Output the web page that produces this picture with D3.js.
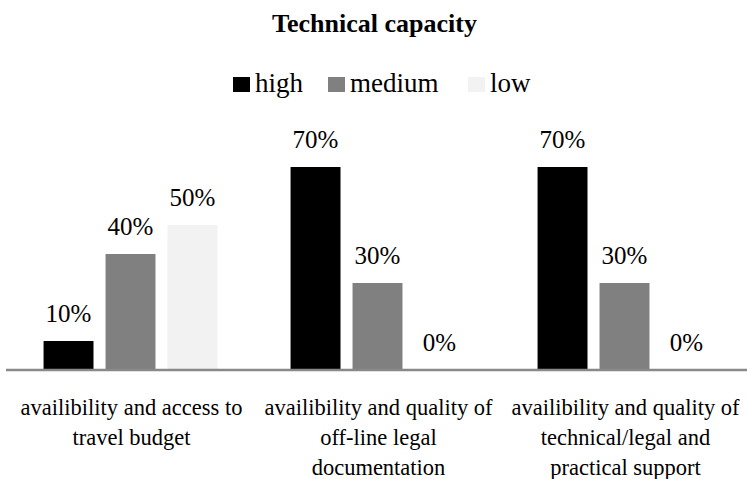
<!DOCTYPE html>
<html>
<head>
<meta charset="utf-8">
<script src="https://cdn.jsdelivr.net/npm/d3@7"></script>
<style>
  html, body { margin: 0; padding: 0; background: #fff; }
  svg { display: block; font-family: "Liberation Serif", "Times New Roman", serif; }
</style>
</head>
<body>
<svg id="chart" width="747" height="479"></svg>
<script>
// chart data
const categories = [
  ['availibility and access to', 'travel budget'],
  ['availibility and quality of', 'off-line legal', 'documentation'],
  ['availibility and quality of', 'technical/legal and', 'practical support']
];
const seriesNames = ['high', 'medium', 'low'];
const seriesColours = ['#000000', '#808080', '#f2f2f2'];
const highValues = [0.10, 0.70, 0.70];
const mediumValues = [0.40, 0.30, 0.30];
const lowValues = [0.50, 0.00, 0.00];

(function () {
  const W = 747, H = 479;
  const svg = d3.select('#chart');
  const values = [highValues, mediumValues, lowValues];

  const baseY = 370;
  const x0 = d3.scaleBand().domain(d3.range(categories.length)).range([7, 748]);
  const x1 = d3.scaleBand().domain(seriesNames).range([0, x0.bandwidth()])
    .paddingInner(0.194).paddingOuter(0.59);
  const y = d3.scaleLinear().domain([0, 1]).range([baseY, baseY - 290]);
  const colour = d3.scaleOrdinal().domain(seriesNames).range(seriesColours);

  // title
  svg.append('text')
    .attr('x', W / 2 + 1).attr('y', 32)
    .attr('text-anchor', 'middle')
    .attr('font-weight', 'bold')
    .attr('font-size', 26)
    .attr('fill', '#000')
    .text('Technical capacity');

  // legend — positions taken from the reference layout
  const legendItems = [
    { name: 'high', x: 233 },
    { name: 'medium', x: 328 },
    { name: 'low', x: 468 }
  ];
  const lg = svg.append('g');
  for (const it of legendItems) {
    lg.append('rect')
      .attr('x', it.x).attr('y', 77)
      .attr('width', 17).attr('height', 15)
      .attr('fill', colour(it.name));
    lg.append('text')
      .attr('x', it.x + 22).attr('y', 92)
      .attr('font-size', 27)
      .attr('fill', '#000')
      .text(it.name);
  }

  // bars + value labels
  const rows = [];
  categories.forEach((c, i) => {
    seriesNames.forEach((s, j) => rows.push({ cat: i, series: s, value: values[j][i] }));
  });

  svg.append('g')
    .selectAll('rect')
    .data(rows.filter(d => d.value > 0))
    .join('rect')
    .attr('x', d => x0(d.cat) + x1(d.series))
    .attr('y', d => y(d.value))
    .attr('width', x1.bandwidth())
    .attr('height', d => baseY - y(d.value))
    .attr('fill', d => colour(d.series));

  svg.append('g')
    .selectAll('text')
    .data(rows)
    .join('text')
    .attr('x', d => x0(d.cat) + x1(d.series) + x1.bandwidth() / 2)
    .attr('y', d => y(d.value) - 19)
    .attr('text-anchor', 'middle')
    .attr('font-size', 25)
    .attr('fill', '#000')
    .text(d => d3.format('.0%')(d.value));

  // category axis line
  svg.append('line')
    .attr('x1', 6).attr('x2', 747)
    .attr('y1', baseY).attr('y2', baseY)
    .attr('stroke', '#898989')
    .attr('stroke-width', 2.5);

  // category labels, wrapped as in the reference
  const lab = svg.append('g')
    .selectAll('text')
    .data(categories)
    .join('text')
    .attr('text-anchor', 'middle')
    .attr('font-size', 22.5)
    .attr('fill', '#000');
  lab.each(function (lines, i) {
    const t = d3.select(this);
    lines.forEach((ln, k) => {
      t.append('tspan')
        .attr('x', x0(i) + x0.bandwidth() / 2 + 1)
        .attr('y', 415 + k * 30)
        .text(ln);
    });
  });
})();
</script>
</body>
</html>
